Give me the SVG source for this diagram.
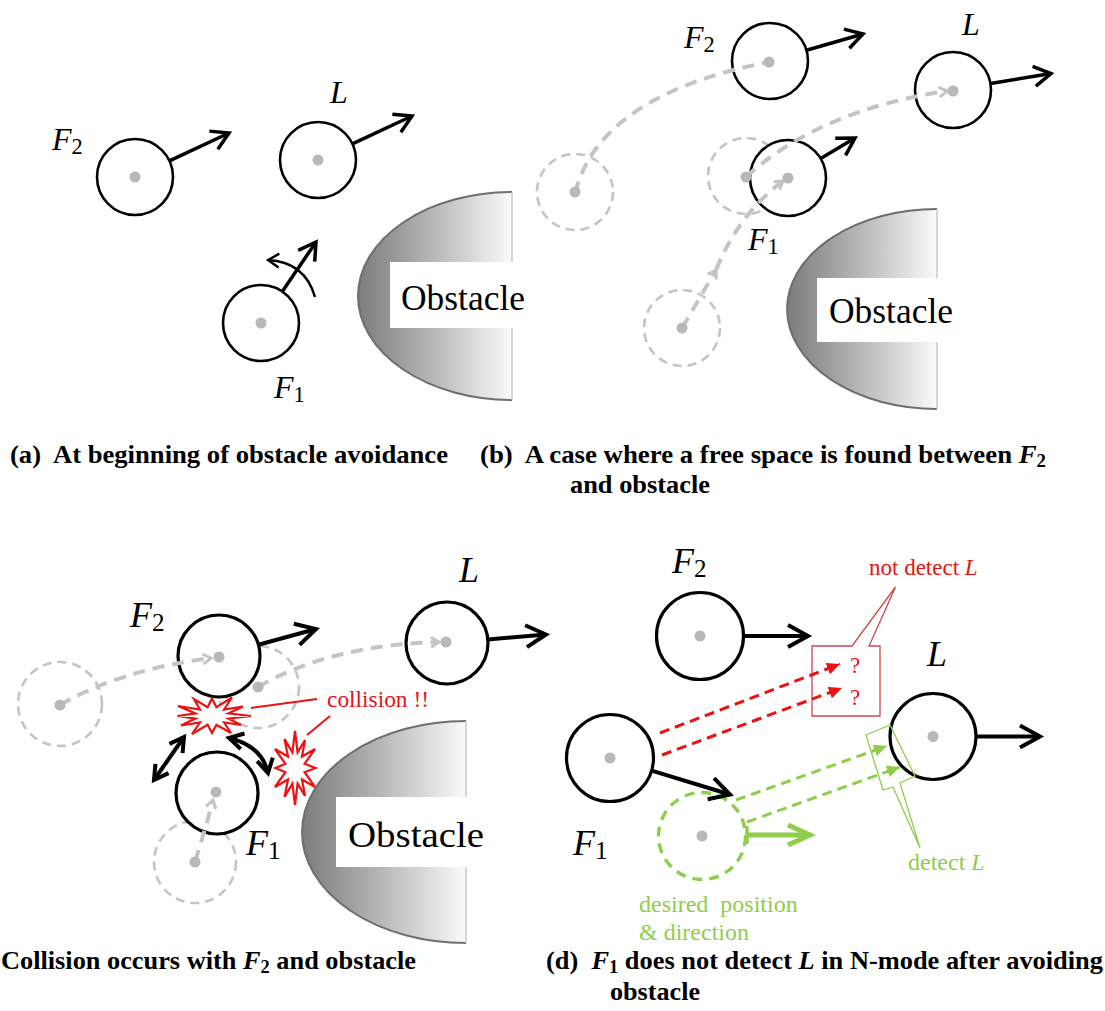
<svg xmlns="http://www.w3.org/2000/svg" width="1105" height="1011" viewBox="0 0 1105 1011">
<style>
  .bg { fill: #ffffff; }
  .robot { fill: #ffffff; stroke: #000000; stroke-width: 2.6; }
  .robotB { fill: #ffffff; stroke: #000000; stroke-width: 3.2; }
  .ghost { fill: none; stroke: #c4c4c4; stroke-width: 2.6; stroke-dasharray: 9 6; }
  .dot { fill: #b8b8b8; }
  .arr { fill: none; stroke: #000000; stroke-width: 3.5; marker-end: url(#ah); }
  .arrB { fill: none; stroke: #000000; stroke-width: 4; marker-end: url(#ahB); }
  .thin { fill: none; stroke: #000000; stroke-width: 2.4; marker-end: url(#ahS); }
  .trail { fill: none; stroke: #c4c4c4; stroke-width: 4; stroke-dasharray: 12 8; }
  .trailA { fill: none; stroke: #c4c4c4; stroke-width: 4; stroke-dasharray: 12 8; marker-end: url(#gah); }
  .dbl { fill: none; stroke: #000000; stroke-width: 4; marker-start: url(#ahD); marker-end: url(#ahD); }
  .redd { fill: none; stroke: #ee1111; stroke-width: 3; stroke-dasharray: 10 6; marker-end: url(#rah); }
  .grnd { fill: none; stroke: #8fce4a; stroke-width: 3; stroke-dasharray: 10 6; marker-end: url(#gnah); }
  .grncirc { fill: none; stroke: #8fce4a; stroke-width: 3.4; stroke-dasharray: 10 7; }
  .grnarr { fill: none; stroke: #8fce4a; stroke-width: 5; marker-start: url(#bar); marker-end: url(#gnV); }
  .boom { fill: #ffffff; stroke: #ee1111; stroke-width: 2.2; stroke-linejoin: miter; }
  .redln { fill: none; stroke: #ee1111; stroke-width: 2; }
  .rcall { fill: none; stroke: #d04848; stroke-width: 1.3; }
  .gcall { fill: none; stroke: #8fce4a; stroke-width: 1.3; }
  .obsFill { fill: url(#obsGrad); }
  .obsEdge { fill: none; stroke: #6e6e6e; stroke-width: 2; }
  .obsSide { stroke: #c8c8c8; stroke-width: 1.5; }
  .obsBox { fill: #ffffff; }
  .obs { font-family: "Liberation Serif", serif; font-size: 36px; fill: #000; }
  .lbl { font-family: "Liberation Serif", serif; font-size: 32px; fill: #000; }
  .lblB { font-family: "Liberation Serif", serif; font-size: 36px; fill: #000; }
  .it { font-style: italic; }
  .sub { font-size: 0.7em; }
  .cap { font-family: "Liberation Serif", serif; font-size: 26px; font-weight: bold; fill: #000; }
  .red { font-family: "Liberation Serif", serif; font-size: 23px; fill: #e81414; }
  .grn { font-family: "Liberation Serif", serif; font-size: 24px; fill: #8fce4a; }
</style>
<defs>
  <linearGradient id="obsGrad" x1="0" y1="0" x2="1" y2="0">
    <stop offset="0" stop-color="#7c7c7c"/>
    <stop offset="0.35" stop-color="#a6a6a6"/>
    <stop offset="1" stop-color="#fafafa"/>
  </linearGradient>
  <marker id="ah" viewBox="-24 -14 30 28" refX="0" refY="0" markerWidth="30" markerHeight="28" markerUnits="userSpaceOnUse" orient="auto">
    <path d="M-17,-10 L0,0 L-17,10" fill="none" stroke="#000" stroke-width="3.5"/>
  </marker>
  <marker id="ahB" viewBox="-26 -15 32 30" refX="0" refY="0" markerWidth="32" markerHeight="30" markerUnits="userSpaceOnUse" orient="auto">
    <path d="M-20,-11 L0,0 L-20,11" fill="none" stroke="#000" stroke-width="4"/>
  </marker>
  <marker id="ahS" viewBox="-16 -10 20 20" refX="0" refY="0" markerWidth="20" markerHeight="20" markerUnits="userSpaceOnUse" orient="auto">
    <path d="M-11,-7 L0,0 L-11,7" fill="none" stroke="#000" stroke-width="2.4"/>
  </marker>
  <marker id="ahD" viewBox="-20 -12 26 24" refX="0" refY="0" markerWidth="26" markerHeight="24" markerUnits="userSpaceOnUse" orient="auto-start-reverse">
    <path d="M-14,-8 L0,0 L-14,8" fill="none" stroke="#000" stroke-width="4"/>
  </marker>
  <marker id="gah" viewBox="-12 -8 16 16" refX="0" refY="0" markerWidth="16" markerHeight="16" markerUnits="userSpaceOnUse" orient="auto">
    <path d="M-8,-5 L0,0 L-8,5" fill="none" stroke="#c4c4c4" stroke-width="3"/>
  </marker>
  <marker id="rah" viewBox="-14 -8 16 16" refX="0" refY="0" markerWidth="16" markerHeight="16" markerUnits="userSpaceOnUse" orient="auto">
    <path d="M-13,-6 L0,0 L-13,6 Z" fill="#ee1111"/>
  </marker>
  <marker id="gnah" viewBox="-14 -8 16 16" refX="0" refY="0" markerWidth="16" markerHeight="16" markerUnits="userSpaceOnUse" orient="auto">
    <path d="M-13,-6 L0,0 L-13,6 Z" fill="#8fce4a"/>
  </marker>
  <marker id="gnV" viewBox="-28 -16 34 32" refX="0" refY="0" markerWidth="34" markerHeight="32" markerUnits="userSpaceOnUse" orient="auto">
    <path d="M-22,-10 L0,0 L-22,10" fill="none" stroke="#8fce4a" stroke-width="5"/>
  </marker>
  <marker id="bar" viewBox="-4 -12 8 24" refX="0" refY="0" markerWidth="8" markerHeight="24" markerUnits="userSpaceOnUse" orient="auto">
    <path d="M0,-9 L0,9" fill="none" stroke="#8fce4a" stroke-width="3.5"/>
  </marker>
</defs>
<rect class="bg" x="0" y="0" width="1105" height="1011"/>

<!-- ================= Panel (a) ================= -->
<g id="panel-a">
  <g id="obstacle-a">
    <path class="obsFill" d="M512,192 A154,104 0 0 0 512,400 Z"/>
    <path class="obsEdge" d="M512,192 A154,104 0 0 0 512,400"/>
    <line class="obsSide" x1="512" y1="192" x2="512" y2="400"/>
    <rect class="obsBox" x="390" y="262" width="140" height="66"/>
    <text class="obs" x="401" y="310" textLength="124" lengthAdjust="spacingAndGlyphs">Obstacle</text>
  </g>
  <g id="F2-a">
    <circle class="robot" cx="135" cy="177" r="38"/>
    <circle class="dot" cx="135" cy="177" r="5.5"/>
    <text class="lbl" x="52" y="150"><tspan class="it">F</tspan><tspan class="sub" dy="4">2</tspan></text>
  </g>
  <g id="L-a">
    <circle class="robot" cx="318" cy="160" r="38"/>
    <circle class="dot" cx="318" cy="160" r="5.5"/>
    <text class="lbl it" x="330" y="103">L</text>
  </g>
  <g id="F1-a">
    <circle class="robot" cx="261" cy="323" r="38"/>
    <circle class="dot" cx="261" cy="323" r="5.5"/>
    <text class="lbl" x="274" y="398"><tspan class="it">F</tspan><tspan class="sub" dy="4">1</tspan></text>
  </g>
  <g id="connectors-a">
    <line class="arr" x1="169.4" y1="160.8" x2="229" y2="133"/>
    <line class="arr" x1="352.4" y1="143.9" x2="412" y2="116"/>
    <line class="arr" x1="282.3" y1="291.5" x2="316" y2="242"/>
    <path class="thin" d="M315,297 Q305,262 268,260"/>
  </g>
</g>

<!-- ================= Panel (b) ================= -->
<g id="panel-b">
  <g id="obstacle-b">
    <path class="obsFill" d="M937,209 A150,100 0 0 0 937,409 Z"/>
    <path class="obsEdge" d="M937,209 A150,100 0 0 0 937,409"/>
    <line class="obsSide" x1="937" y1="209" x2="937" y2="409"/>
    <rect class="obsBox" x="817" y="278" width="140" height="64"/>
    <text class="obs" x="829" y="323" textLength="124" lengthAdjust="spacingAndGlyphs">Obstacle</text>
  </g>
  <g id="ghosts-b">
    <circle class="ghost" cx="575" cy="192" r="38"/>
    <circle class="ghost" cx="746" cy="176" r="38"/>
    <circle class="ghost" cx="682" cy="328" r="38"/>
  </g>
  <g id="F2-b">
    <circle class="robot" cx="770" cy="61" r="38"/>
    <text class="lbl" x="684" y="48"><tspan class="it">F</tspan><tspan class="sub" dy="4">2</tspan></text>
  </g>
  <g id="L-b">
    <circle class="robot" cx="953" cy="90" r="38"/>
    <text class="lbl it" x="962" y="35">L</text>
  </g>
  <g id="F1-b">
    <circle class="robot" cx="788" cy="178" r="38"/>
    <text class="lbl" x="748" y="250"><tspan class="it">F</tspan><tspan class="sub" dy="4">1</tspan></text>
  </g>
  <g id="connectors-b">
    <path class="trail" d="M575,193 Q600,95 769,62"/>
    <path class="trailA" d="M746,177 Q820,110 947,91"/>
    <path class="trailA" d="M682,328 L716,270"/>
    <path class="trailA" d="M716,270 Q738,215 783,181"/>
    <line class="arr" x1="806.5" y1="50.2" x2="863" y2="34"/>
    <line class="arr" x1="990.5" y1="83.6" x2="1051" y2="73.5"/>
    <line class="arr" x1="820.7" y1="158.6" x2="855" y2="138"/>
  </g>
  <g id="dots-b">
    <circle class="dot" cx="575" cy="192" r="5.5"/>
    <circle class="dot" cx="746" cy="177" r="5.5"/>
    <circle class="dot" cx="682" cy="328" r="5.5"/>
    <circle class="dot" cx="769" cy="62" r="5.5"/>
    <circle class="dot" cx="953" cy="91" r="5.5"/>
    <circle class="dot" cx="788" cy="178" r="5.5"/>
  </g>
</g>

<!-- ================= Panel (c) ================= -->
<g id="panel-c">
  <g id="obstacle-c">
    <path class="obsFill" d="M466,721 A164,111 0 0 0 466,943 Z"/>
    <path class="obsEdge" d="M466,721 A164,111 0 0 0 466,943"/>
    <line class="obsSide" x1="466" y1="721" x2="466" y2="943"/>
    <rect class="obsBox" x="336" y="797" width="152" height="70"/>
    <text class="obs" x="348" y="847" font-size="38" textLength="136" lengthAdjust="spacingAndGlyphs">Obstacle</text>
  </g>
  <g id="ghosts-c">
    <circle class="ghost" cx="60" cy="704" r="42"/>
    <circle class="ghost" cx="258" cy="687" r="41"/>
    <circle class="ghost" cx="195" cy="862" r="41"/>
  </g>
  <g id="F2-c">
    <circle class="robotB" cx="219" cy="656" r="41"/>
    <text class="lblB" x="130" y="627"><tspan class="it">F</tspan><tspan class="sub" dy="4">2</tspan></text>
  </g>
  <g id="L-c">
    <circle class="robotB" cx="447" cy="643" r="41"/>
    <text class="lblB it" x="459" y="582">L</text>
  </g>
  <g id="F1-c">
    <circle class="robotB" cx="217" cy="793" r="41"/>
    <text class="lblB" x="246" y="855"><tspan class="it">F</tspan><tspan class="sub" dy="4">1</tspan></text>
  </g>
  <g id="collision-1">
    <polygon class="boom" points="251,716 228.5,718.6 241,725 224.1,722.5 231,733 216.4,724.8 212,733 207.6,724.8 192,734 199.9,722.5 181,725.5 195.5,718.6 177.5,716 195.5,713.4 178,706 199.9,709.5 194,699 207.6,707.2 212,698.5 216.4,707.2 232,697.5 224.1,709.5 243,706.5 228.5,713.4"/>
  </g>
  <g id="collision-2">
    <polygon class="boom" points="315.5,768 304.6,772.2 315,787 302,779.5 305,796 297.6,783.6 295,805 292.4,783.6 284.5,797 288,779.5 275,787 285.4,772.2 275.5,768 285.4,763.8 275,749 288,756.5 284.5,739 292.4,752.4 295,731 297.6,752.4 305,740 302,756.5 315,749 304.6,763.8"/>
  </g>
  <g id="connectors-c">
    <path class="trailA" d="M60,705 Q120,670 211,658"/>
    <path class="trailA" d="M258,687 Q330,645 439,642"/>
    <path class="trailA" d="M195,862 Q205,830 213,800"/>
    <line class="arrB" x1="258.4" y1="644.8" x2="316" y2="629"/>
    <line class="arrB" x1="487.8" y1="639.4" x2="546" y2="634.5"/>
    <line class="dbl" x1="184" y1="737" x2="154" y2="780"/>
    <path class="dbl" d="M229,738 Q262,746 268,773"/>
    <line class="redln" x1="251" y1="708" x2="317" y2="699"/>
    <line class="redln" x1="307" y1="735" x2="330" y2="716"/>
  </g>
  <g id="dots-c">
    <circle class="dot" cx="60" cy="705" r="5.5"/>
    <circle class="dot" cx="258" cy="687" r="5.5"/>
    <circle class="dot" cx="195" cy="862" r="5.5"/>
    <circle class="dot" cx="219" cy="657" r="5.5"/>
    <circle class="dot" cx="446" cy="642" r="5.5"/>
    <circle class="dot" cx="216" cy="792" r="5.5"/>
  </g>
  <text class="red" x="327" y="707" textLength="102" lengthAdjust="spacingAndGlyphs">collision !!</text>
</g>

<!-- ================= Panel (d) ================= -->
<g id="panel-d">
  <g id="F2-d">
    <circle class="robotB" cx="700" cy="636" r="43.5"/>
    <circle class="dot" cx="700" cy="636" r="5.5"/>
    <text class="lblB" x="672" y="573"><tspan class="it">F</tspan><tspan class="sub" dy="4">2</tspan></text>
  </g>
  <g id="L-d">
    <circle class="robotB" cx="933" cy="736.5" r="43"/>
    <circle class="dot" cx="933" cy="736.5" r="5.5"/>
    <text class="lblB it" x="927" y="666">L</text>
  </g>
  <g id="F1-d">
    <circle class="robotB" cx="610" cy="758" r="43.5"/>
    <circle class="dot" cx="610" cy="758" r="5.5"/>
    <text class="lblB" x="573" y="855"><tspan class="it">F</tspan><tspan class="sub" dy="4">1</tspan></text>
  </g>
  <g id="desired-d">
    <circle class="grncirc" cx="702" cy="836" r="43.5"/>
    <circle class="dot" cx="702" cy="836" r="5.5"/>
    <text class="grn" x="639" y="912" xml:space="preserve">desired  position</text>
    <text class="grn" x="639" y="940">&amp; direction</text>
  </g>
  <g id="callout-not-detect">
    <path class="rcall" d="M852,646 L812,646 L812,716 L880,716 L880,646 L869,646 L895.5,587 Z"/>
    <text class="red" x="850" y="673" font-size="24">?</text>
    <text class="red" x="850" y="705" font-size="24">?</text>
    <text class="red" x="869" y="575" font-size="24">not detect <tspan class="it">L</tspan></text>
  </g>
  <g id="callout-detect">
    <path class="gcall" d="M866,735 L890,725 L915,776 L900,783 L920,848 L893,787 L883,790 Z"/>
    <text class="grn" x="908" y="870">detect <tspan class="it">L</tspan></text>
  </g>
  <g id="connectors-d">
    <line class="arrB" x1="743.5" y1="636" x2="808" y2="636"/>
    <line class="arrB" x1="976" y1="736.5" x2="1040" y2="736.5"/>
    <line class="arrB" x1="651.6" y1="770.6" x2="730" y2="794.5"/>
    <line class="redd" x1="660" y1="733" x2="840" y2="664"/>
    <line class="redd" x1="662" y1="755" x2="842" y2="688"/>
    <line class="grnd" x1="736" y1="800" x2="887" y2="746"/>
    <line class="grnd" x1="747" y1="822" x2="900" y2="767"/>
    <line class="grnarr" x1="747" y1="835" x2="810" y2="835"/>
  </g>
</g>

<!-- ================= Captions ================= -->
<g id="captions">
  <text class="cap" x="10" y="463" xml:space="preserve" textLength="438" lengthAdjust="spacingAndGlyphs">(a)  At beginning of obstacle avoidance</text>
  <text class="cap" x="480" y="463" xml:space="preserve" textLength="566" lengthAdjust="spacingAndGlyphs">(b)  A case where a free space is found between <tspan class="it">F</tspan><tspan class="sub" dy="4">2</tspan></text>
  <text class="cap" x="570" y="493" textLength="140" lengthAdjust="spacingAndGlyphs">and obstacle</text>
  <text class="cap" x="1" y="969" xml:space="preserve" textLength="415" lengthAdjust="spacingAndGlyphs">Collision occurs with <tspan class="it">F</tspan><tspan class="sub" dy="4">2</tspan><tspan dy="-4"> and obstacle</tspan></text>
  <text class="cap" x="546" y="969" xml:space="preserve" textLength="557" lengthAdjust="spacingAndGlyphs">(d)  <tspan class="it">F</tspan><tspan class="sub" dy="4">1</tspan><tspan dy="-4"> does not detect </tspan><tspan class="it">L</tspan> in N-mode after avoiding</text>
  <text class="cap" x="610" y="1000" textLength="90" lengthAdjust="spacingAndGlyphs">obstacle</text>
</g>
</svg>
